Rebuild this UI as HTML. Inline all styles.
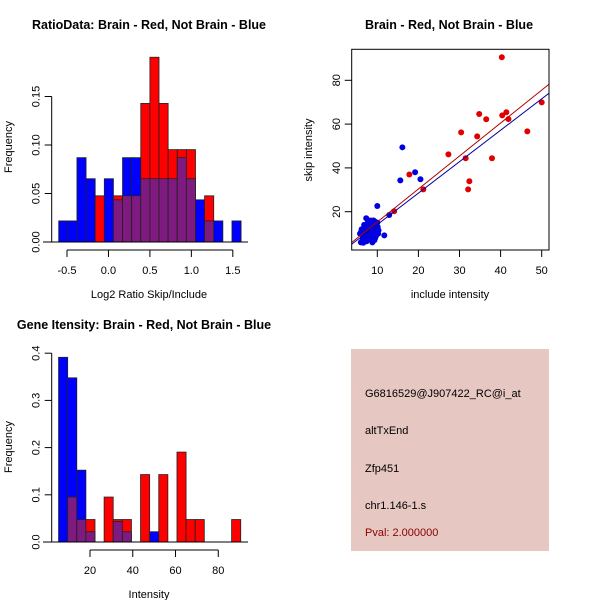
<!DOCTYPE html>
<html><head><meta charset="utf-8"><style>
body{margin:0;background:#fff}
svg{display:block;font-family:"Liberation Sans",sans-serif}
</style></head><body>
<svg id="c" width="600" height="600" viewBox="0 0 600 600" xmlns="http://www.w3.org/2000/svg">
<rect width="600" height="600" fill="#fff"/>
<text x="149" y="29" font-size="12.5" font-weight="bold" text-anchor="middle">RatioData: Brain - Red, Not Brain - Blue</text>
<text x="449" y="29" font-size="12.5" font-weight="bold" text-anchor="middle">Brain - Red, Not Brain - Blue</text>
<text x="144" y="329" font-size="12.5" font-weight="bold" text-anchor="middle">Gene Itensity: Brain - Red, Not Brain - Blue</text>
<text x="149" y="298" font-size="11" text-anchor="middle">Log2 Ratio Skip/Include</text>
<text transform="translate(12,147) rotate(-90)" font-size="11" text-anchor="middle">Frequency</text>
<text x="149" y="598" font-size="11" text-anchor="middle">Intensity</text>
<text transform="translate(12,447) rotate(-90)" font-size="11" text-anchor="middle">Frequency</text>
<text x="450" y="298" font-size="11" text-anchor="middle">include intensity</text>
<text transform="translate(312,150) rotate(-90)" font-size="11" text-anchor="middle">skip intensity</text>
<g>
<rect x="351" y="349" width="198" height="202" fill="#E6C7C1"/>
<text x="365" y="397" font-size="11">G6816529@J907422_RC@i_at</text>
<text x="365" y="434" font-size="11">altTxEnd</text>
<text x="365" y="472" font-size="11">Zfp451</text>
<text x="365" y="509" font-size="11">chr1.146-1.s</text>
<text x="365" y="536" font-size="11" fill="#8B0000">Pval: 2.000000</text>
</g>
</svg>
<script>
// Ratio histogram counts (20 bins)
const ratioBlue=[1,1,4,3,0,3,2,4,4,3,3,3,3,4,3,2,1,1,0,1];
const ratioRed=[0,0,0,0,1,0,1,1,1,3,4,3,2,2,2,0,1,0,0,0];
const ratioStart=-0.6, ratioWidth=0.11;
const ratioXTicks=[-0.5,0,0.5,1,1.5];
const ratioXLabels=["-0.5","0.0","0.5","1.0","1.5"];
const ratioYTicks=[0,0.05,0.1,0.15];
const ratioYLabels=["0.00","0.05","0.10","0.15"];
// Intensity histogram counts
const intBlue=[18,16,7,1,0,0,2,1,0,0,1,0,0,0,0,0,0,0,0,0];
const intRed=[0,2,1,1,0,2,1,1,0,3,0,3,0,4,1,1,0,0,0,1];
const intStart=5.3, intWidth=4.26;
const intXTicks=[20,40,60,80];
const intYTicks=[0,0.1,0.2,0.3,0.4];
const intYLabels=["0.0","0.1","0.2","0.3","0.4"];
const nBlue=46, nRed=21;
// Scatter
const redX=[40.3,50,46.5,41.4,40.4,41.9,36.5,34.8,34.3,30.4,27.3,31.5,37.9,32.4,32.1,21.2,17.8,14.1,8.5,10,7.6];
const redY=[90.5,69.9,56.7,65.4,64,62.3,62.2,64.6,54.4,56.2,46.2,44.4,44.4,33.9,30.2,30.2,37,20.2,16,13,10];
const blueX=[16.1,15.6,19.2,20.5,10,12.9,11.7,6,6.5,7,7.2,7.5,8,8.3,8.6,9,9.3,9.6,10,10.2,5.8,6.2,6.8,7.3,7.8,8.2,8.8,9.2,9.7,10.1,6.4,7.1,7.7,8.4,9.1,9.8,6.6,8.9,9.5,7.4,8.1,10.3,6.1,8.7,9.4,7.9];
const blueY=[49.4,34.3,38,34.8,22.6,18.5,9.2,6,8,10,12,14,16,13,11,9,7,12,15,10,10,12,14,17,11,8,6,14,9,13,7,9,15,10,16,11,5.8,12,8,6.5,14,11.5,11,7.5,15.5,12.5];
const fitSlope=[1.505,1.436];
const fitIntercept=[0.28,-0.24];
const scXTicks=[10,20,30,40,50];
const scYTicks=[20,40,60,80];

const svg=document.getElementById('c');
const NS='http://www.w3.org/2000/svg';
function mk(tag,attrs,parent){const e=document.createElementNS(NS,tag);for(const k in attrs)e.setAttribute(k,attrs[k]);(parent||svg).appendChild(e);return e;}
const RED='#FF0000',BLUE='#0000FF',PURP='#7F1A80';

function hist(blue,red,start,width,xs,ys,name,xTicks,xLabels,yTicks,yLabels,yAxisTop,xAxisY,baseX0,baseX1){
  const g=mk('g',{});
  
  
  for(let i=0;i<blue.length;i++){
    const x0=xs(start+i*width),x1=xs(start+(i+1)*width);
    const b=blue[i]/nBlue,r=red[i]/nRed;
    const hi=Math.max(b,r),lo=Math.min(b,r);
    if(hi>0){
      const bar=mk('rect',{x:x0,y:ys(hi),width:x1-x0,height:ys(0)-ys(hi),fill:b>r?BLUE:RED,stroke:'#222','stroke-width':0.8},g);
      
      
    }
    if(lo>0){
      const ov=mk('rect',{x:x0,y:ys(lo),width:x1-x0,height:ys(0)-ys(lo),fill:PURP,stroke:'#222','stroke-width':0.8},g);
      
      
    }
  }
  mk('line',{x1:baseX0,x2:baseX1,y1:ys(0),y2:ys(0),stroke:'#000'},g);
  const ax=51.7;
  mk('line',{x1:ax,x2:ax,y1:ys(0),y2:ys(yAxisTop),stroke:'#000'},g);
  yTicks.forEach((t,i)=>{
    mk('line',{x1:ax-7,x2:ax,y1:ys(t),y2:ys(t),stroke:'#000'},g);
    const tx=mk('text',{transform:`translate(${ax-12},${ys(t)}) rotate(-90)`,'font-size':11,'text-anchor':'middle'},g);
    tx.textContent=yLabels[i];
  });
  mk('line',{x1:xs(xTicks[0]),x2:xs(xTicks[xTicks.length-1]),y1:xAxisY,y2:xAxisY,stroke:'#000'},g);
  xTicks.forEach((t,i)=>{
    mk('line',{x1:xs(t),x2:xs(t),y1:xAxisY,y2:xAxisY+7,stroke:'#000'},g);
    const tx=mk('text',{x:xs(t),y:xAxisY+24,'font-size':11,'text-anchor':'middle'},g);
    tx.textContent=xLabels[i];
  });
}
const rxs=v=>67+(v+0.5)*82.9, rys=v=>242-v*970;
hist(ratioBlue,ratioRed,ratioStart,ratioWidth,rxs,rys,'ratio-histogram',ratioXTicks,ratioXLabels,ratioYTicks,ratioYLabels,0.15,250,43,248);
const ixs=v=>90+(v-20)*2.138, iys=v=>542-v*472;
hist(intBlue,intRed,intStart,intWidth,ixs,iys,'intensity-histogram',intXTicks,intXTicks.map(String),intYTicks,intYLabels,0.4,550,43,248);

const sx=v=>377.3+(v-10)*4.11, sy=v=>211.7-(v-20)*2.19;
const sg=mk('g',{});


const clip=mk('clipPath',{id:'sc'},sg);mk('rect',{x:351.7,y:49.3,width:197.3,height:200.7},clip);
redX.forEach((v,i)=>{const p=mk('circle',{cx:sx(v),cy:sy(redY[i]),r:3,fill:'#E00000'},sg);
  
  });
blueX.forEach((v,i)=>{const p=mk('circle',{cx:sx(v),cy:sy(blueY[i]),r:3,fill:'#0000E0'},sg);
  
  });
['#B00000','#0000A0'].forEach((c,i)=>{const l=mk('line',{x1:sx(0),x2:sx(60),y1:sy(fitIntercept[i]),y2:sy(fitIntercept[i]+fitSlope[i]*60),stroke:c,'stroke-width':1,'clip-path':'url(#sc)'},sg);
  
  });
mk('rect',{x:351.7,y:49.3,width:197.3,height:200.7,fill:'none',stroke:'#000'},sg);
scXTicks.forEach(t=>{mk('line',{x1:sx(t),x2:sx(t),y1:250,y2:257,stroke:'#000'},sg);
  const tx=mk('text',{x:sx(t),y:274,'font-size':11,'text-anchor':'middle'},sg);tx.textContent=t;});
scYTicks.forEach(t=>{mk('line',{x1:344.7,x2:351.7,y1:sy(t),y2:sy(t),stroke:'#000'},sg);
  const tx=mk('text',{transform:`translate(340,${sy(t)}) rotate(-90)`,'font-size':11,'text-anchor':'middle'},sg);tx.textContent=t;});
</script>
</body></html>
